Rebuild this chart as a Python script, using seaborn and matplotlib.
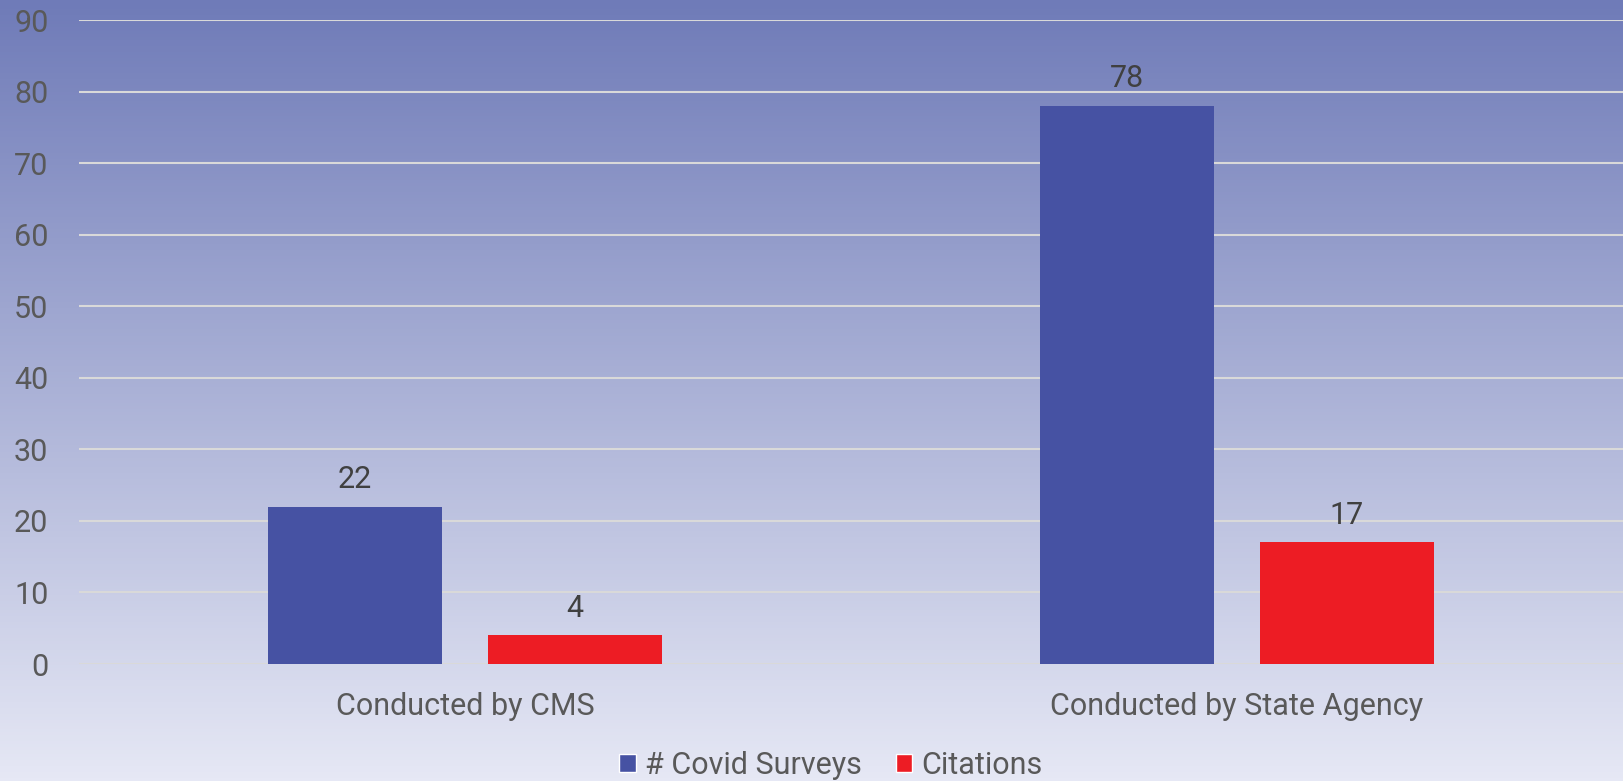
import numpy as np
import pandas as pd
import matplotlib
matplotlib.use("Agg")
import matplotlib.pyplot as plt
import seaborn as sns
from matplotlib.colors import LinearSegmentedColormap
from matplotlib.patches import Patch

categories = ["Conducted by CMS", "Conducted by State Agency"]
series_names = ["# Covid Surveys", "Citations"]
covid_surveys = [22, 78]
citations = [4, 17]
y_ticks = [0, 10, 20, 30, 40, 50, 60, 70, 80, 90]

colors = ["#4652a3", "#ed1c24"]

df = pd.DataFrame({
    "category": categories * 2,
    "series": [series_names[0]] * 2 + [series_names[1]] * 2,
    "value": covid_surveys + citations,
})

sns.set_theme(style="white")
plt.rcParams["font.family"] = ["Roboto", "DejaVu Sans"]

fig = plt.figure(figsize=(16.23, 7.81), dpi=100)

# gradient background
bg = fig.add_axes([0, 0, 1, 1], zorder=-10)
cmap = LinearSegmentedColormap.from_list("bg", ["#6f7bb8", "#e6e8f5"])
grad = np.linspace(0, 1, 256).reshape(-1, 1)
bg.imshow(grad, aspect="auto", cmap=cmap, extent=[0, 1, 0, 1], origin="upper")
bg.set_axis_off()

ax = fig.add_axes([79 / 1623, (781 - 664) / 781, 1 - 79 / 1623, (664 - 20) / 781])
ax.set_facecolor("none")

sns.barplot(data=df, x="category", y="value", hue="series", palette=colors,
            width=0.569, gap=0.21, ax=ax, legend=False, saturation=1, zorder=3,
            linewidth=0, edgecolor="none")

ax.set_ylim(0, 90)
ax.set_yticks(y_ticks)
ax.set_xlim(-0.5, 1.5)
ax.yaxis.grid(True, color="#d9d9d9", linewidth=1.5, zorder=0)
ax.set_axisbelow(True)
for s in ax.spines.values():
    s.set_visible(False)
ax.set_xlabel("")
ax.set_ylabel("")
ax.tick_params(axis="y", length=0, pad=22, labelsize=22, labelcolor="#595959")
ax.tick_params(axis="x", length=0, pad=20, labelsize=22, labelcolor="#595959")

for c in ax.containers:
    ax.bar_label(c, padding=9, fontsize=22, color="#404040")

handles = [Patch(facecolor=colors[0], label=series_names[0]),
           Patch(facecolor=colors[1], label=series_names[1])]
fig.legend(handles=handles, loc="lower center", bbox_to_anchor=(0.512, -0.034), ncol=2,
           frameon=False, fontsize=22, labelcolor="#595959", handlelength=0.55,
           handleheight=0.55, handletextpad=0.3, columnspacing=1.1)

fig.savefig("out.png", dpi=100)
